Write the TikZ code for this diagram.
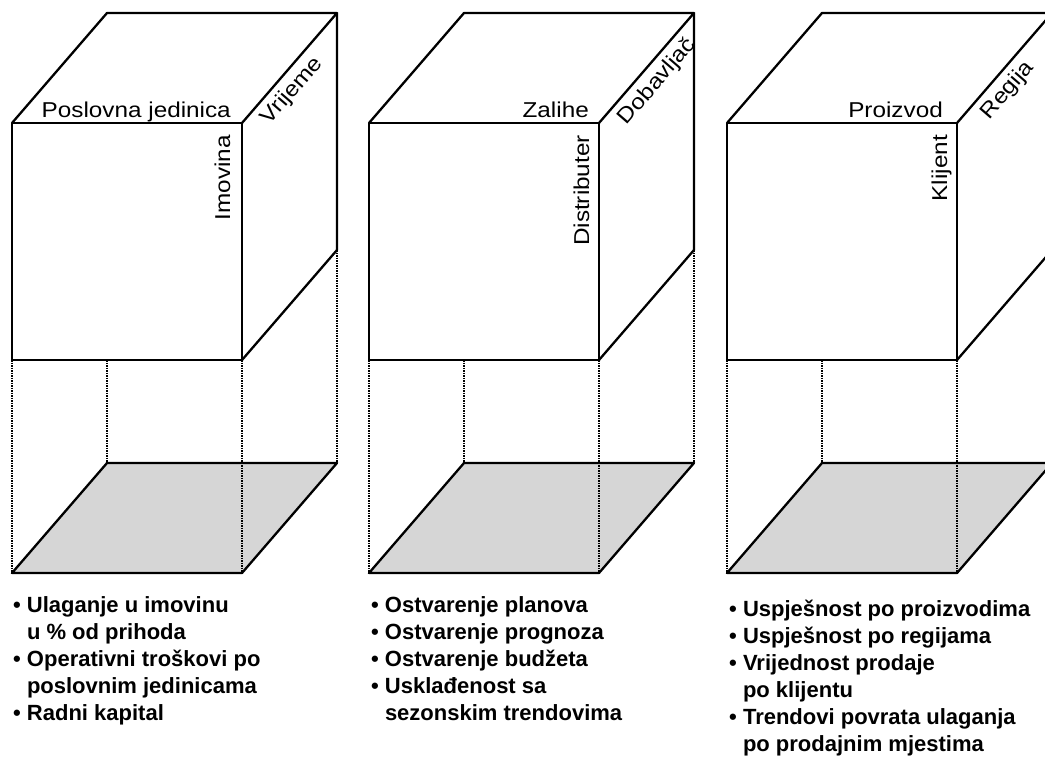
\documentclass[tikz,border=0pt]{standalone}
\usepackage{fontspec}
\setmainfont{Liberation Sans}
\newfontfamily\axisfont[FakeStretch=1.13]{Liberation Sans}
\newfontfamily\kpifont{Liberation Sans}
\usepackage{tikz}
\usetikzlibrary{positioning}
\tikzstyle{edge} = [line width=2.3pt, line join=round]
\tikzstyle{hidden} = [line width=2.2pt, dash pattern=on 1.5pt off 1pt]
\tikzstyle{floor} = [edge, fill=black!16]
\tikzstyle{axislabel} = [font=\axisfont\fontsize{21.5}{24}\selectfont, inner sep=0pt]
\tikzstyle{depthlabel} = [axislabel, sloped, anchor=north west, inner xsep=3pt, inner ysep=7pt]
\tikzstyle{kpilist} = [font=\kpifont\bfseries\fontsize{22}{27}\selectfont, align=left, anchor=north west, inner sep=0pt]
\newcommand{\kpiitem}{\textbullet\ }
\newcommand{\kpigap}{\phantom{\textbullet\ }}

\begin{document}
\begin{tikzpicture}[x=1pt, y=-1pt]
        \clip (0,0) rectangle (1045,758);
        \fill[white] (0,0) rectangle (1045,758);
        \foreach \c/\x in {inv/12, sup/369, cli/727} {
            % front face, back edge and floor corners
            \coordinate (\c-ftl) at (\x,123);
            \coordinate (\c-ftr) at (\x+230,123);
            \coordinate (\c-fbl) at (\x,360);
            \coordinate (\c-fbr) at (\x+230,360);
            \coordinate (\c-btl) at (\x+95,13);
            \coordinate (\c-btr) at (\x+325,13);
            \coordinate (\c-bbr) at (\x+325,250);
            \coordinate (\c-bbl) at (\x+95,360);
            \coordinate (\c-gl) at (\x,573);
            \coordinate (\c-gr) at (\x+230,573);
            \coordinate (\c-gbl) at (\x+95,463);
            \coordinate (\c-gbr) at (\x+325,463);
            \draw [floor] (\c-gl) -- (\c-gr) -- (\c-gbr) -- (\c-gbl) -- cycle;
            \draw [hidden] (\c-fbl) -- (\c-gl);
            \draw [hidden] (\c-fbr) -- (\c-gr);
            \draw [hidden] (\c-bbl) -- (\c-gbl);
            \draw [hidden] (\c-bbr) -- (\c-gbr);
            \draw [edge] (\c-ftl) rectangle (\c-fbr);
            \draw [edge] (\c-ftl) -- (\c-btl) -- (\c-btr) -- (\c-ftr);
            \draw [edge] (\c-btr) -- (\c-bbr) -- (\c-fbr);
        }
        % dimension labels
        \node (inv-top) [axislabel, anchor=base east] at ([shift={(-11pt,6pt)}]inv-ftr) {Poslovna jedinica};
        \node (inv-side) [axislabel, rotate=90, anchor=base east] at ([shift={(-12pt,-12pt)}]inv-ftr) {Imovina};
        \path (inv-ftr) -- node (inv-depth) [depthlabel, pos=0.09] {Vrijeme} (inv-btr);
        \node (sup-top) [axislabel, anchor=base east] at ([shift={(-10pt,6pt)}]sup-ftr) {Zalihe};
        \node (sup-side) [axislabel, rotate=90, anchor=base east] at ([shift={(-10pt,-12pt)}]sup-ftr) {Distributer};
        \path (sup-ftr) -- node (sup-depth) [depthlabel, pos=0.09] {Dobavljač} (sup-btr);
        \node (cli-top) [axislabel, anchor=base east] at ([shift={(-14pt,6pt)}]cli-ftr) {Proizvod};
        \node (cli-side) [axislabel, rotate=90, anchor=base east] at ([shift={(-10pt,-12pt)}]cli-ftr) {Klijent};
        \path (cli-ftr) -- node (cli-depth) [depthlabel, pos=0.14] {Regija} (cli-btr);
        % indicator lists
        \node (inv-kpi) [kpilist] at (13,596) {\kpiitem Ulaganje u imovinu\\ \kpigap u \% od prihoda\\ \kpiitem Operativni troškovi po\\ \kpigap poslovnim jedinicama\\ \kpiitem Radni kapital};
        \node (sup-kpi) [kpilist] at (371,596) {\kpiitem Ostvarenje planova\\ \kpiitem Ostvarenje prognoza\\ \kpiitem Ostvarenje budžeta\\ \kpiitem Usklađenost sa\\ \kpigap sezonskim trendovima};
        \node (cli-kpi) [kpilist] at (729,600) {\kpiitem Uspješnost po proizvodima\\ \kpiitem Uspješnost po regijama\\ \kpiitem Vrijednost prodaje\\ \kpigap po klijentu\\ \kpiitem Trendovi povrata ulaganja\\ \kpigap po prodajnim mjestima};
    \end{tikzpicture}
\end{document}
